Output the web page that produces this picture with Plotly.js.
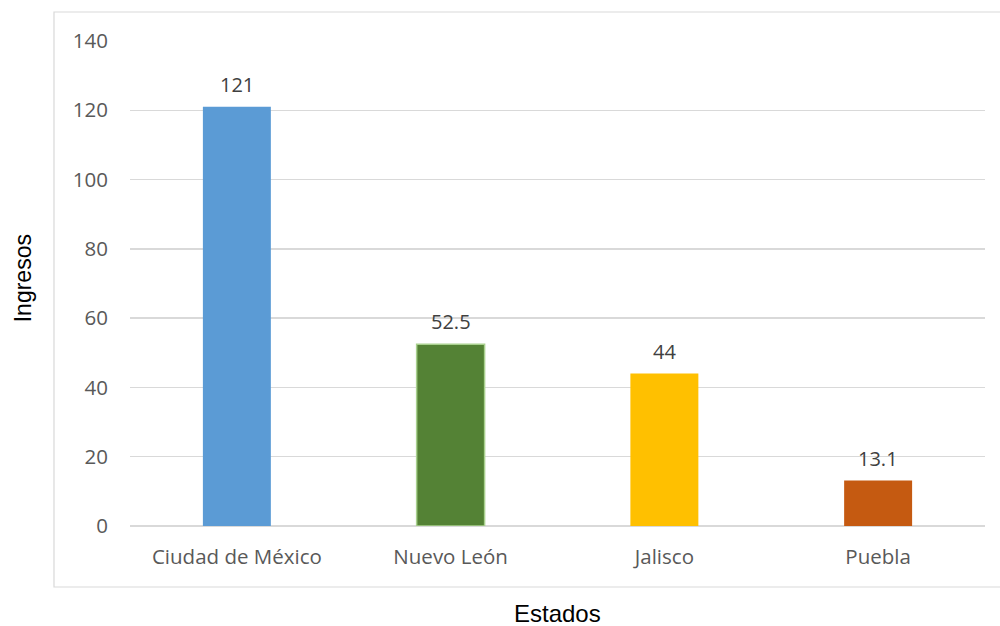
<!DOCTYPE html>
<html>
<head>
<meta charset="utf-8">
<script src="https://cdn.plot.ly/plotly-3.0.1.min.js"></script>
<style>html,body{margin:0;padding:0;background:#fff;}#chart{width:1000px;height:626px;}</style>
</head>
<body>
<div id="chart"></div>
<script>
const categories = ["Ciudad de México", "Nuevo León", "Jalisco", "Puebla"];
const values = [121, 52.5, 44, 13.1];
const labels = ["121", "52.5", "44", "13.1"];
const colors = ["#5b9bd5", "#548235", "#ffc000", "#c55a11"];
const outlineColors = ["#5b9bd5", "#a9d18e", "#ffc000", "#c55a11"];
const outlineWidths = [0, 1.5, 0, 0];
const yTicks = [0, 20, 40, 60, 80, 100, 120, 140];

const trace = {
  type: 'bar',
  x: categories,
  y: values,
  width: 0.318,
  marker: {color: colors, line: {color: outlineColors, width: outlineWidths}},
  hoverinfo: 'none'
};

const annotations = categories.map((c, i) => ({
  x: c, y: values[i], xref: 'x', yref: 'y',
  text: labels[i], showarrow: false,
  yanchor: 'bottom', yshift: 7,
  font: {family: 'Open Sans, sans-serif', size: 20, color: '#404040'}
}));

annotations.push({
  text: 'Estados', xref: 'paper', yref: 'paper', x: 0.5, y: -0.181,
  xanchor: 'center', yanchor: 'middle', showarrow: false,
  font: {family: 'Liberation Sans, Arial, sans-serif', size: 24, color: '#000'}
});
annotations.push({
  text: 'Ingresos', xref: 'paper', yref: 'paper', x: -0.125, y: 0.511,
  xanchor: 'center', yanchor: 'middle', showarrow: false, textangle: -90,
  font: {family: 'Liberation Sans, Arial, sans-serif', size: 23, color: '#000'}
});

const layout = {
  width: 1000, height: 626,
  margin: {l: 130, r: 15, t: 41, b: 100},
  paper_bgcolor: '#fff', plot_bgcolor: '#fff',
  showlegend: false,
  xaxis: {
    type: 'category',
    showgrid: false, zeroline: false, showline: false,
    ticks: '', ticklabelstandoff: 16,
    tickfont: {family: 'Open Sans, sans-serif', size: 20.5, color: '#595959'}
  },
  yaxis: {
    range: [0, 140],
    tickvals: yTicks,
    ticktext: yTicks.map(String),
    showgrid: true, gridcolor: '#d9d9d9', gridwidth: 1.3,
    zeroline: true, zerolinecolor: '#d9d9d9', zerolinewidth: 1.3,
    showline: false, ticks: '', ticklabelstandoff: 21,
    tickfont: {family: 'Open Sans, sans-serif', size: 20.5, color: '#595959'}
  },
  shapes: [{
    type: 'rect', xref: 'paper', yref: 'paper',
    x0: -0.0889, x1: 1.02, y0: -0.1258, y1: 1.0598,
    line: {color: '#d9d9d9', width: 1.2}, fillcolor: 'rgba(0,0,0,0)', layer: 'below'
  }],
  annotations: annotations
};

Plotly.newPlot('chart', [trace], layout, {displayModeBar: false, staticPlot: true});
</script>
</body>
</html>
